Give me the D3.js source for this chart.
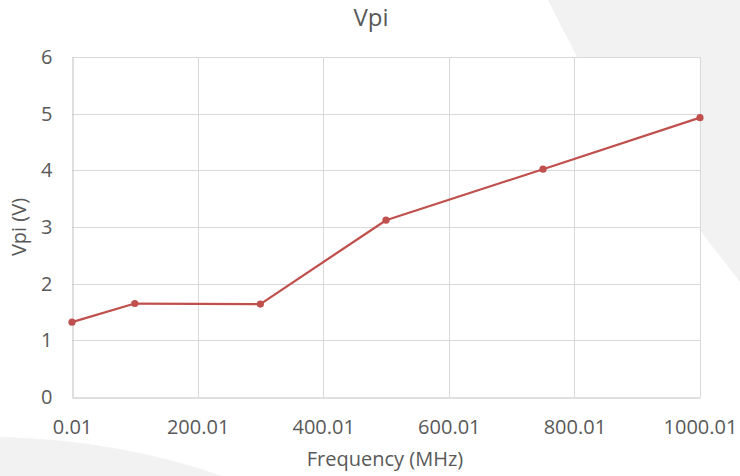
<!DOCTYPE html>
<html>
<head>
<meta charset="utf-8">
<script src="https://cdn.jsdelivr.net/npm/d3@7"></script>
<style>
  html, body { margin: 0; padding: 0; background: #fff; }
  svg { display: block; font-family: "Open Sans", sans-serif; }
</style>
</head>
<body>
<svg id="chart" width="740" height="476"></svg>
<script>
// data
var freqs = [0.01, 100, 300, 500, 750, 1000];
var vpi = [1.32, 1.65, 1.64, 3.12, 4.02, 4.93];
var xTicks = [0.01, 200.01, 400.01, 600.01, 800.01, 1000.01];
var xTickLabels = ["0.01", "200.01", "400.01", "600.01", "800.01", "1000.01"];
var yTicks = [0, 1, 2, 3, 4, 5, 6];

var svg = d3.select("#chart");
// plot box (window.top is reserved, so use own names)
var plotL = 72, plotR = 700, plotT = 57, plotB = 397;
var red = "#c0504d", txt = "#595959";

// light background decoration
svg.append("path")
    .attr("d", "M548,0 L740,0 L740,282 L702,233 L640,150 L577,57 Z")
    .attr("fill", "#f2f2f2");
svg.append("path")
    .attr("d", "M0,437 Q120,440 222,476 L0,476 Z")
    .attr("fill", "#f2f2f2");

var x = d3.scaleLinear().domain([0.01, 1000.01]).range([plotL, plotR]);
var y = d3.scaleLinear().domain([0, 6]).range([plotB, plotT]);

// plot area
svg.append("rect")
    .attr("x", plotL).attr("y", plotT)
    .attr("width", plotR - plotL).attr("height", plotB - plotT)
    .attr("fill", "#fff");

// gridlines
var grid = svg.append("g");
grid.selectAll("line.h").data(yTicks.slice(1)).enter().append("line")
    .attr("x1", plotL).attr("x2", plotR)
    .attr("y1", function(d) { return Math.round(y(d)) + 0.5; })
    .attr("y2", function(d) { return Math.round(y(d)) + 0.5; })
    .attr("stroke", "#d9d9d9").attr("stroke-width", 1);
grid.selectAll("line.v").data(xTicks.slice(1)).enter().append("line")
    .attr("y1", plotT).attr("y2", plotB)
    .attr("x1", function(d) { return Math.round(x(d)) + 0.5; })
    .attr("x2", function(d) { return Math.round(x(d)) + 0.5; })
    .attr("stroke", "#d9d9d9").attr("stroke-width", 1);

// axes
var xAxis = d3.axisBottom(x).tickValues(xTicks)
    .tickFormat(function(d, i) { return xTickLabels[i]; })
    .tickSize(0).tickPadding(22);
var gx = svg.append("g").attr("transform", "translate(0," + (plotB + 0.5) + ")").call(xAxis);
gx.select(".domain").attr("stroke", "#bfbfbf");
gx.selectAll("text").attr("fill", txt).style("font-size", "20px")
    .style("font-family", "Open Sans, sans-serif");

var yAxis = d3.axisLeft(y).tickValues(yTicks).tickFormat(d3.format("d"))
    .tickSize(0).tickPadding(20);
var gy = svg.append("g").attr("transform", "translate(" + (plotL + 0.5) + ",0)").call(yAxis);
gy.select(".domain").attr("stroke", "#bfbfbf");
gy.selectAll("text").attr("fill", txt).style("font-size", "20px")
    .style("font-family", "Open Sans, sans-serif");

// series
var pts = freqs.map(function(f, i) { return [f, vpi[i]]; });
var line = d3.line().x(function(d) { return x(d[0]); }).y(function(d) { return y(d[1]); });
svg.append("path").datum(pts)
    .attr("d", line)
    .attr("fill", "none")
    .attr("stroke", red)
    .attr("stroke-width", 2.25)
    .attr("stroke-linejoin", "round");
svg.selectAll("circle.pt").data(pts).enter().append("circle")
    .attr("cx", function(d) { return x(d[0]); })
    .attr("cy", function(d) { return y(d[1]); })
    .attr("r", 3.6)
    .attr("fill", red);

// titles
svg.append("text")
    .attr("x", 371).attr("y", 26)
    .attr("text-anchor", "middle")
    .attr("fill", txt)
    .style("font-size", "24px")
    .text("Vpi");
svg.append("text")
    .attr("x", 385).attr("y", 466)
    .attr("text-anchor", "middle")
    .attr("fill", txt)
    .style("font-size", "20px")
    .text("Frequency (MHz)");
svg.append("text")
    .attr("transform", "translate(26," + ((plotT + plotB) / 2) + ") rotate(-90)")
    .attr("text-anchor", "middle")
    .attr("fill", txt)
    .style("font-size", "20px")
    .text("Vpi (V)");
</script>
</body>
</html>
